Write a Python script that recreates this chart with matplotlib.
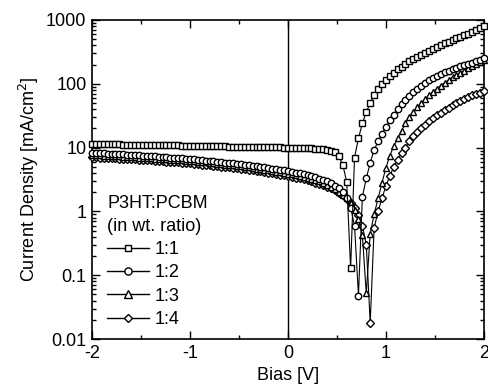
import numpy as np
import matplotlib.pyplot as plt
from matplotlib.lines import Line2D

plt.rcParams['font.family'] = ['Liberation Sans', 'DejaVu Sans']

# bias sweep, -2 V to 2 V in 0.04 V steps
bias = np.linspace(-2, 2, 101)

# current density (mA/cm^2), absolute value
j_11 = [11.4, 11.4, 11.3, 11.3, 11.3, 11.2, 11.2, 11.2, 11.1, 11.1,
        11.1, 11.1, 11.0, 11.0, 11.0, 10.9, 10.9, 10.9, 10.9, 10.8,
        10.8, 10.8, 10.8, 10.7, 10.7, 10.7, 10.7, 10.6, 10.6, 10.6,
        10.6, 10.5, 10.5, 10.5, 10.5, 10.4, 10.4, 10.4, 10.4, 10.3,
        10.3, 10.3, 10.3, 10.2, 10.2, 10.2, 10.1, 10.1, 10.1, 10.0,
        10.0, 10.0, 9.9, 9.9, 9.8, 9.8, 9.7, 9.6, 9.5, 9.4,
        9.2, 9.0, 8.5, 7.3, 5.4, 2.9, 0.13, 7.0, 14, 24,
        36, 50, 66, 82, 98, 115, 132, 150, 168, 186,
        205, 225, 245, 265, 285, 305, 330, 355, 380, 405,
        430, 458, 486, 515, 545, 577, 610, 660, 705, 750,
        800]

j_12 = [8.3, 8.24, 8.18, 8.12, 8.06, 8.0, 7.94, 7.88, 7.82, 7.76,
        7.7, 7.63, 7.56, 7.49, 7.42, 7.35, 7.28, 7.21, 7.14, 7.07,
        7.0, 6.92, 6.84, 6.76, 6.68, 6.6, 6.52, 6.44, 6.36, 6.28,
        6.2, 6.11, 6.02, 5.93, 5.84, 5.75, 5.66, 5.57, 5.48, 5.39,
        5.3, 5.2, 5.1, 5.0, 4.9, 4.8, 4.7, 4.6, 4.5, 4.4,
        4.3, 4.18, 4.06, 3.94, 3.82, 3.7, 3.56, 3.42, 3.28, 3.12,
        2.95, 2.76, 2.55, 2.3, 2.0, 1.65, 1.15, 0.6, 0.048, 1.7,
        3.3, 5.8, 9.2, 12.5, 16.5, 21, 27, 33, 40, 48,
        56, 65, 74, 84, 94, 104, 114, 124, 134, 143,
        152, 161, 170, 179, 188, 197, 206, 215, 224, 235,
        250]

j_13 = [7.7, 7.64, 7.58, 7.52, 7.46, 7.4, 7.34, 7.28, 7.22, 7.16,
        7.1, 7.04, 6.98, 6.92, 6.86, 6.8, 6.74, 6.68, 6.62, 6.56,
        6.5, 6.43, 6.36, 6.29, 6.22, 6.15, 6.08, 6.01, 5.94, 5.87,
        5.8, 5.71, 5.62, 5.53, 5.44, 5.35, 5.26, 5.17, 5.08, 4.99,
        4.9, 4.8, 4.7, 4.6, 4.5, 4.4, 4.3, 4.2, 4.1, 4.0,
        3.9, 3.8, 3.7, 3.6, 3.48, 3.36, 3.24, 3.1, 2.96, 2.8,
        2.62, 2.44, 2.25, 2.05, 1.83, 1.6, 1.35, 1.05, 0.75, 0.42,
        0.052, 0.45, 0.9, 1.6, 2.8, 4.8, 7.5, 10.5, 14, 18.5,
        24, 30, 36, 43, 50, 58, 66, 75, 84, 94,
        104, 115, 126, 137, 149, 161, 174, 188, 203, 220,
        240]

j_14 = [7.1, 7.05, 7.0, 6.95, 6.9, 6.85, 6.8, 6.75, 6.7, 6.65,
        6.6, 6.54, 6.48, 6.42, 6.36, 6.3, 6.24, 6.18, 6.12, 6.06,
        6.0, 5.93, 5.86, 5.79, 5.72, 5.65, 5.58, 5.51, 5.44, 5.37,
        5.3, 5.22, 5.14, 5.06, 4.98, 4.9, 4.82, 4.74, 4.66, 4.58,
        4.5, 4.41, 4.32, 4.23, 4.14, 4.05, 3.96, 3.87, 3.78, 3.69,
        3.6, 3.5, 3.4, 3.3, 3.2, 3.08, 2.96, 2.84, 2.71, 2.58,
        2.44, 2.29, 2.13, 1.96, 1.78, 1.58, 1.37, 1.14, 0.88, 0.6,
        0.3, 0.018, 0.55, 1.0, 1.6, 2.5, 3.6, 5.0, 6.5, 8.2,
        10, 12.5, 15, 17.5, 20, 23, 26, 29, 32, 35.5,
        39, 42.5, 46, 50, 54, 58, 62, 66, 70, 73,
        76]

ratios = ["1:1", "1:2", "1:3", "1:4"]
markers = ["s", "o", "^", "D"]
series = [j_11, j_12, j_13, j_14]
msizes = {"s": 4.4, "o": 4.6, "^": 5.0, "D": 3.9}

fig = plt.figure(figsize=(4.88, 3.92), dpi=100)
ax = fig.add_axes([0.1885, 0.135, 0.803, 0.814])

# draw last curve first so the squares sit on top like the original
for lab, m, j in reversed(list(zip(ratios, markers, series))):
    ax.plot(bias, j, color="black", lw=0.8, marker=m, ms=msizes[m],
            mfc="white", mec="black", mew=1.0, clip_on=False, zorder=3)

ax.axvline(0, color="black", lw=1.0, zorder=2)

ax.set_yscale("log")
ax.set_xlim(-2, 2)
ax.set_ylim(0.01, 1000)
ax.set_xticks([-2, -1, 0, 1, 2])
ax.set_xticklabels(["-2", "-1", "0", "1", "2"])
ax.set_xticks([-1.5, -0.5, 0.5, 1.5], minor=True)
ax.set_yticks([0.01, 0.1, 1, 10, 100, 1000])
ax.set_yticklabels(["0.01", "0.1", "1", "10", "100", "1000"])
ax.tick_params(which="both", direction="in", top=True, right=True,
               labelsize=13, width=1.0)
ax.tick_params(which="major", length=6, pad=4)
ax.tick_params(which="minor", length=3)
for s in ax.spines.values():
    s.set_linewidth(1.2)

ax.set_xlabel("Bias [V]", fontsize=13, labelpad=4)
ax.set_ylabel("Current Density [mA/cm$^2$]", fontsize=13, labelpad=4)

handles = [Line2D([], [], color="black", lw=1.0, marker=m,
                  ms=msizes[m] + 0.6, mfc="white", mec="black",
                  mew=1.0) for m in markers]
leg = ax.legend(handles, ratios, title="P3HT:PCBM\n(in wt. ratio)",
                loc="lower left", bbox_to_anchor=(0.02, 0.012),
                frameon=False, fontsize=13, title_fontsize=13,
                handlelength=2.3, handletextpad=0.35, labelspacing=0.35,
                borderaxespad=0.0, alignment="left")
leg.get_title().set_linespacing(1.45)

fig.savefig("out.png", dpi=100)
